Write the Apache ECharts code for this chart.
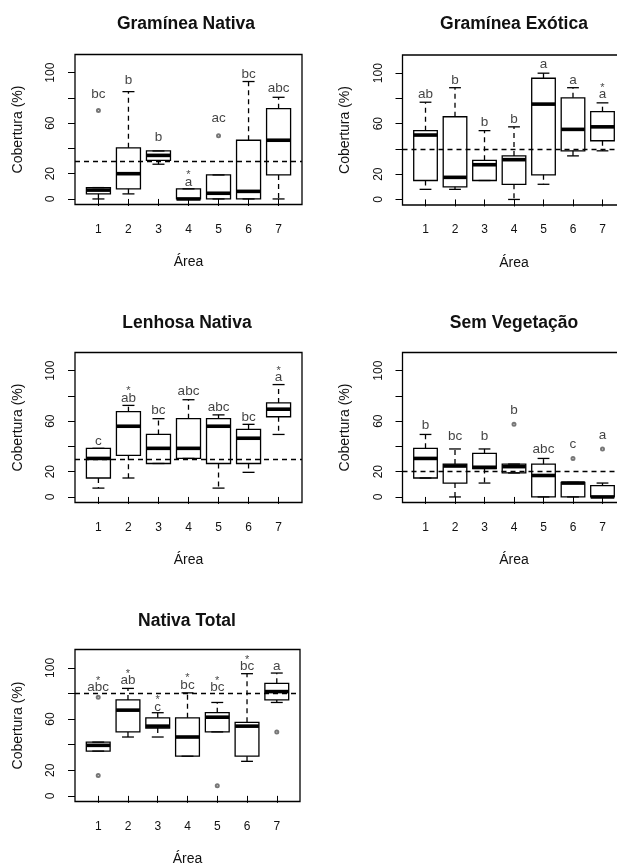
<!DOCTYPE html>
<html><head><meta charset="utf-8">
<script src="https://cdn.jsdelivr.net/npm/echarts@6/dist/echarts.min.js"></script>
<style>html,body{margin:0;padding:0;background:#fff}#c{width:617px;height:863px}</style>
</head><body><div id="c"></div>
<script>
const areas = [1, 2, 3, 4, 5, 6, 7];
const yTicks = [0, 20, 40, 60, 80, 100];
const yTickLabels = [0, 20, 60, 100];
const titles = ['Gramínea Nativa', 'Gramínea Exótica', 'Lenhosa Nativa', 'Sem Vegetação', 'Nativa Total'];

// box stats per area: [min, Q1, median, Q3, max]
const gnStats = [[0,4,7,9,9],[4,8,20,40.5,85],[27.5,30.5,34.5,38,38],[0,0,0,8,8],[0,0,4.5,19,19],[0,0,6,46.5,93],[0,19,46.5,71.5,80.5]];
const gnOut = [[1,70],[5,50]];
const gnLetters = ['bc','b','b','*a','ac','bc','abc'];
const gnLetterY = [83,94,49,13.5,64,99,88];
const gnRef = 30;

const geStats = [[8,15,51,54.5,77],[8,10,17.5,65.5,88.5],[15,15,27.5,31,54.5],[0,12,31.5,34.5,57.5],[12,19.5,75.5,96,100],[34.5,38.5,55.5,80.5,88.5],[38.5,46.5,57.5,69.5,76.5]];
const geOut = [];
const geLetters = ['ab','b','b','b','a','a','*a'];
const geLetterY = [83,94,61,63.5,107,94,83];
const geRef = 40;

const lnStats = [[7,15,30.5,38.5,38.5],[15,33,56,67.5,72.5],[26.5,26.5,38.5,49.5,62],[30.5,30.5,38.5,62,77],[7,26.5,56,62,65],[19.5,26.5,46.5,53.5,57.5],[49.5,63.5,69.5,74.5,89]];
const lnOut = [];
const lnLetters = ['c','*ab','bc','abc','abc','bc','*a'];
const lnLetterY = [44,78,68.5,84,71,63,94.5];
const lnRef = 30;

const svStats = [[15,15,30.5,38.5,49.5],[0,11,24.5,26,38],[11,22.5,23.5,34.5,38],[19,19,24,26,26],[0,0,17,26,30.5],[0,0,11,11.5,11.5],[0,0,0,9,11]];
const svOut = [[4,57.5],[6,30.5],[7,38]];
const svLetters = ['b','bc','b','b','abc','c','a'];
const svLetterY = [57,48,48,68.5,38,42,49];
const svRef = 20;

const ntStats = [[35,35,39.5,42,42],[46,50,67,75,84],[46,53,54.5,61,65],[31,31,46,61,80.5],[50,50,61.5,65,73],[27,31,54.5,57.5,95.5],[73,75,81.5,88,96]];
const ntOut = [[1,77],[1,16],[5,8],[7,50]];
const ntLetters = ['*abc','*ab','*c','*bc','*bc','*bc','a'];
const ntLetterY = [84.5,90,69.5,86.5,84.5,101,101];
const ntRef = 80;

const panels = [
  {stats: gnStats, out: gnOut, letters: gnLetters, ly: gnLetterY, ref: gnRef},
  {stats: geStats, out: geOut, letters: geLetters, ly: geLetterY, ref: geRef},
  {stats: lnStats, out: lnOut, letters: lnLetters, ly: lnLetterY, ref: lnRef},
  {stats: svStats, out: svOut, letters: svLetters, ly: svLetterY, ref: svRef},
  {stats: ntStats, out: ntOut, letters: ntLetters, ly: ntLetterY, ref: ntRef}
];

const layout = [
  {left: 75, top: 54.5, width: 227, height: 150, tx: 186, ty: 15},
  {left: 402.5, top: 55, width: 223, height: 150, tx: 514, ty: 15},
  {left: 75, top: 352.5, width: 227, height: 150, tx: 187, ty: 314},
  {left: 402.5, top: 352.5, width: 223, height: 150, tx: 514, ty: 314},
  {left: 75, top: 649.5, width: 225, height: 152, tx: 187, ty: 612}
];

const FONT = 'Liberation Sans, Arial, sans-serif';
const INK = '#111';

function renderBox(params, api) {
  const x = api.value(0);
  const c = [1, 2, 3, 4, 5].map(i => api.coord([x, api.value(i)]));
  const cx = c[0][0];
  const half = api.size([0.8, 0])[0] / 2;
  const st = half / 2;
  const ls = {stroke: '#000', lineWidth: 1.3, fill: null};
  const ds = {stroke: '#000', lineWidth: 1.3, lineDash: [5, 4], fill: null};
  return {type: 'group', children: [
    {type: 'line', shape: {x1: cx, y1: c[3][1], x2: cx, y2: c[4][1]}, style: ds},
    {type: 'line', shape: {x1: cx, y1: c[1][1], x2: cx, y2: c[0][1]}, style: ds},
    {type: 'line', shape: {x1: cx - st, y1: c[4][1], x2: cx + st, y2: c[4][1]}, style: ls},
    {type: 'line', shape: {x1: cx - st, y1: c[0][1], x2: cx + st, y2: c[0][1]}, style: ls},
    {type: 'rect', shape: {x: cx - half, y: c[3][1], width: 2 * half, height: c[1][1] - c[3][1]}, style: {fill: 'none', stroke: '#000', lineWidth: 1.3}},
    {type: 'line', shape: {x1: cx - half, y1: c[2][1], x2: cx + half, y2: c[2][1]}, style: {stroke: '#000', lineWidth: 3.6, fill: null}}
  ]};
}

const option = {
  backgroundColor: '#fff',
  animation: false,
  title: titles.map((t, i) => ({
    text: t, left: layout[i].tx, top: layout[i].ty, textAlign: 'center', padding: 0,
    textStyle: {fontFamily: FONT, fontSize: 17.5, fontWeight: 'bold', color: INK}
  })),
  grid: layout.map(l => ({left: l.left, top: l.top, width: l.width, height: l.height,
    outerBoundsMode: 'none', containLabel: false,
    show: true, borderColor: '#000', borderWidth: 1.3, backgroundColor: 'transparent'})),
  xAxis: layout.map((l, i) => ({
    gridIndex: i, type: 'value', min: 0.22, max: 7.78,
    name: 'Área', nameLocation: 'middle', nameGap: 51,
    nameTextStyle: {fontFamily: FONT, fontSize: 14, color: INK},
    axisLine: {show: false}, splitLine: {show: false},
    axisTick: {show: true, length: 7, customValues: areas, lineStyle: {color: '#000', width: 1}},
    axisLabel: {show: true, margin: 19, customValues: areas, fontFamily: FONT, fontSize: 12, color: INK}
  })),
  yAxis: layout.map((l, i) => ({
    gridIndex: i, type: 'value', min: -4.4, max: 114.4,
    name: 'Cobertura (%)', nameLocation: 'middle', nameGap: 50, nameRotate: 90,
    nameTextStyle: {fontFamily: FONT, fontSize: 14, color: INK},
    axisLine: {show: false}, splitLine: {show: false},
    axisTick: {show: true, length: 7, customValues: yTicks, lineStyle: {color: '#000', width: 1}},
    axisLabel: {show: true, rotate: 90, margin: 18, customValues: yTickLabels, fontFamily: FONT, fontSize: 12, color: INK}
  })),
  series: []
};

panels.forEach((p, i) => {
  option.series.push({
    type: 'custom', xAxisIndex: i, yAxisIndex: i,
    renderItem: renderBox,
    encode: {x: 0, y: [1, 2, 3, 4, 5]},
    data: p.stats.map((s, k) => [areas[k]].concat(s)),
    silent: true, z: 3
  });
  if (p.out.length) option.series.push({
    type: 'scatter', xAxisIndex: i, yAxisIndex: i,
    symbol: 'emptyCircle', symbolSize: 3,
    itemStyle: {color: '#555', borderColor: '#555', borderWidth: 0.8},
    data: p.out, silent: true, z: 4
  });
  option.series.push({
    type: 'scatter', xAxisIndex: i, yAxisIndex: i,
    symbolSize: 0, silent: true, z: 5,
    data: p.letters.map((t, k) => {
      const star = t.charAt(0) === '*';
      return {value: [areas[k], p.ly[k], star ? t.slice(1) : t, star ? 1 : 0],
        label: {offset: [0, star ? -1 : 0]}};
    }),
    label: {
      show: true, position: 'inside', color: INK, fontFamily: FONT, fontSize: 13.5,
      formatter: q => q.data.value[3] ? '{s|*}\n{t|' + q.data.value[2] + '}' : q.data.value[2],
      rich: {s: {fontSize: 11, lineHeight: 2, fontFamily: FONT, color: INK}, t: {fontSize: 13.5, lineHeight: 12, fontFamily: FONT, color: INK}}
    },
    markLine: {
      silent: true, symbol: 'none', label: {show: false},
      lineStyle: {color: '#000', type: [5, 4], width: 1.3},
      data: [{yAxis: p.ref}]
    }
  });
});

const chart = echarts.init(document.getElementById('c'), null, {renderer: 'canvas'});
chart.setOption(option);
</script></body></html>
